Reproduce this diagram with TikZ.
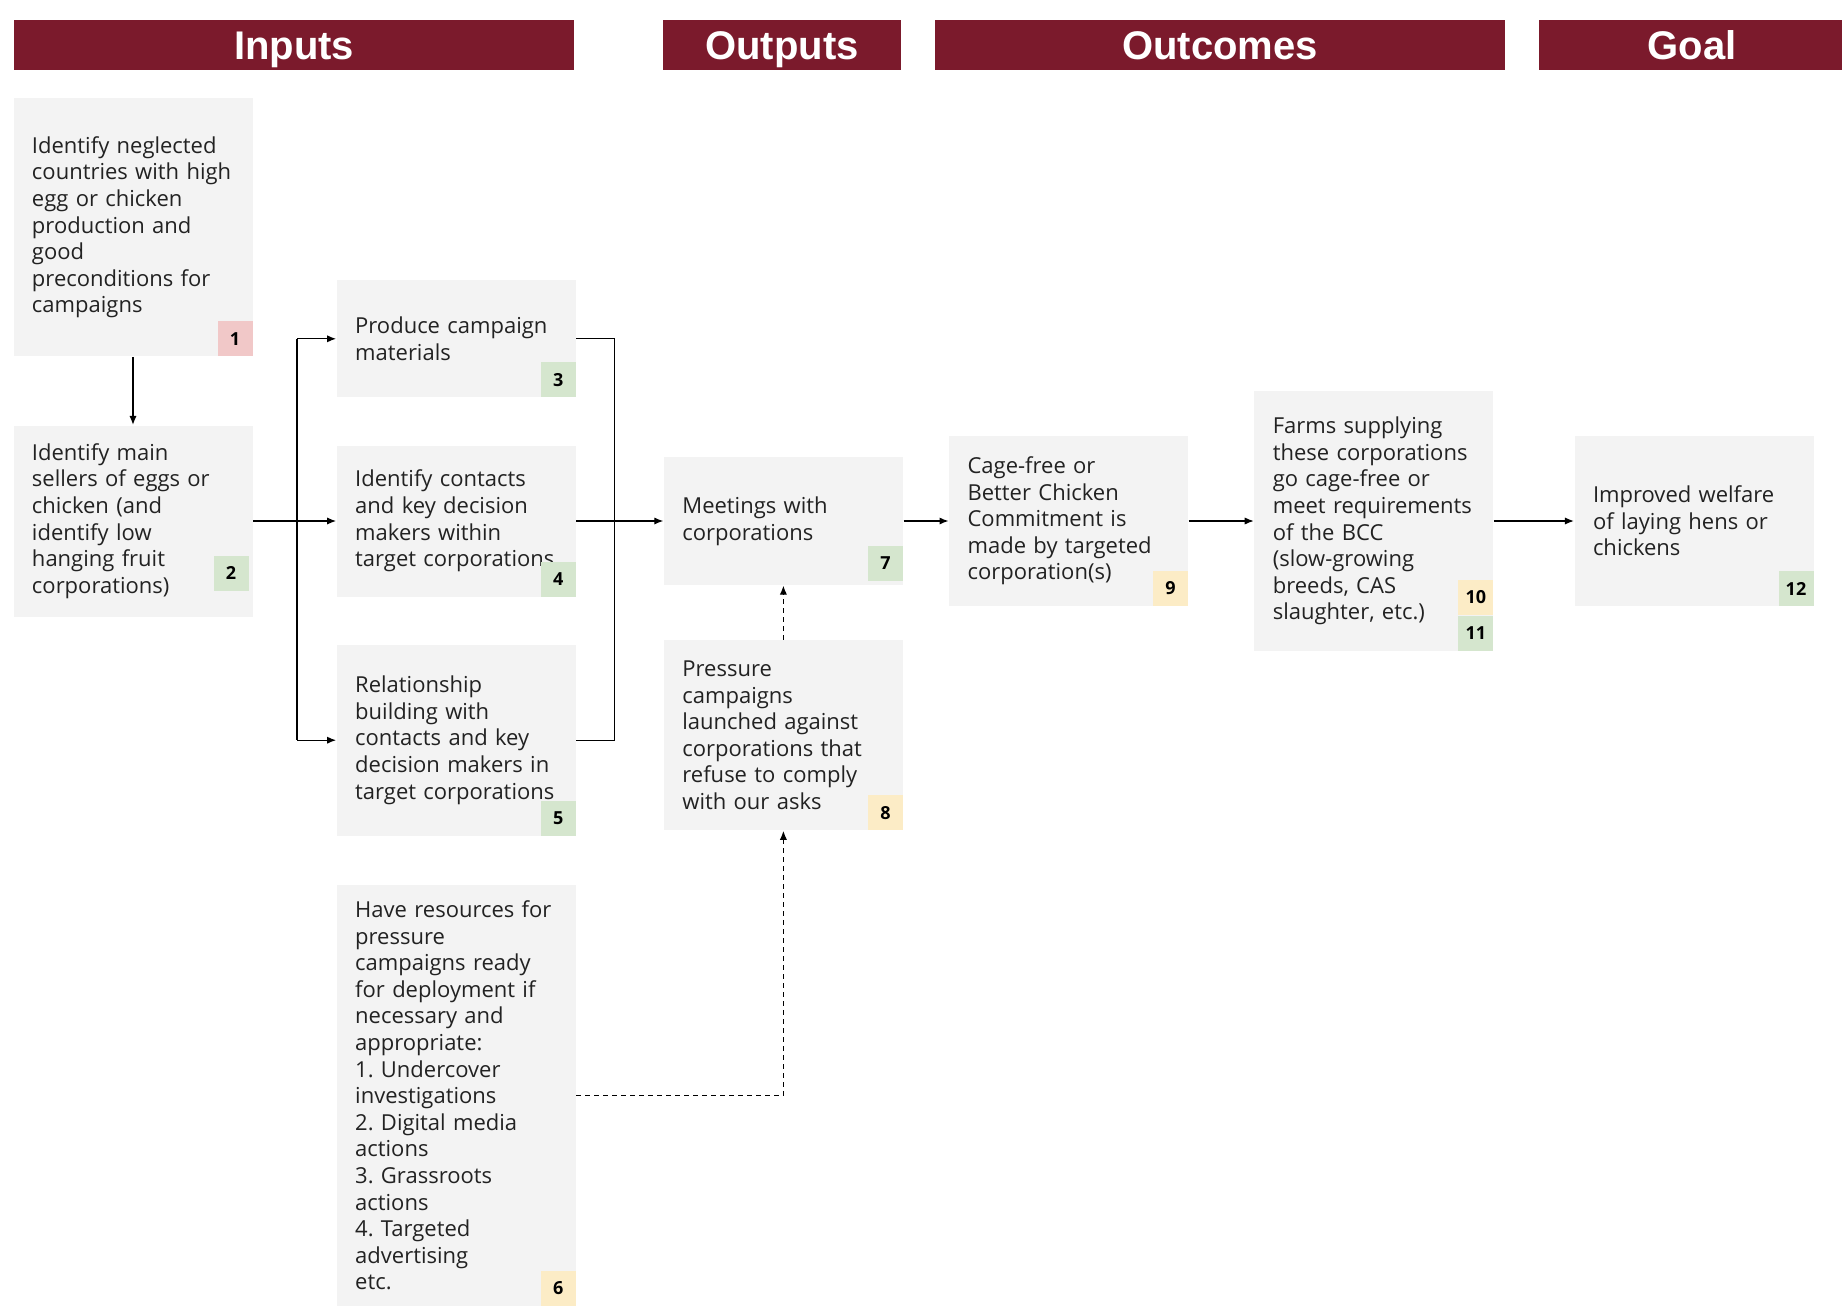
\documentclass[tikz,border=0pt]{standalone}
\usepackage{fontspec}
\setmainfont{Open Sans}
\newfontfamily\barfont{Liberation Sans}
\usetikzlibrary{arrows.meta, positioning, calc}
\definecolor{barred}{RGB}{123,26,44}
\definecolor{boxgray}{RGB}{243,243,243}
\definecolor{inkgray}{RGB}{34,34,34}
\definecolor{tagred}{RGB}{241,200,200}
\definecolor{taggreen}{RGB}{213,230,206}
\definecolor{tagyellow}{RGB}{252,236,198}
\tikzstyle{logic}=[>={Latex[length=4.5pt,width=3.6pt]}, line width=0.6pt]
\tikzstyle{header}=[fill=barred, text=white, font=\barfont\bfseries\fontsize{20}{24}\selectfont, minimum height=25pt, inner sep=0pt, text height=14.3pt, text depth=0pt]
\tikzstyle{stage}=[fill=boxgray, text=inkgray, text width=101pt, inner xsep=9.25pt, inner ysep=0pt, align=left, font=\frenchspacing\fontsize{11}{13.3}\selectfont]
\tikzstyle{tag}=[font=\bfseries\fontsize{9}{10}\selectfont, minimum size=17.5pt, inner sep=0pt, anchor=south east]
\tikzstyle{feed}=[dash pattern=on 2.5pt off 2pt]

\begin{document}
\begin{tikzpicture}[logic, x=1pt, y=-1pt]
  \useasboundingbox (0,0) rectangle (921,653);
  % column headers
  \node[header, minimum width=280pt] (inputs) at (147,22.5) {Inputs};
  \node[header, minimum width=119pt] (outputs) at (391,22.5) {Outputs};
  \node[header, minimum width=285pt] (outcomes) at (610,22.5) {Outcomes};
  \node[header, minimum width=153pt] (goal) at (846,22.5) {Goal};
  % inputs
  \node[stage, minimum height=95.5pt] (s2) at (66.5,260.5) {Identify main\\sellers of eggs or\\chicken (and\\identify low\\hanging fruit\\corporations)};
  \node[stage, minimum height=129pt] (s1) [above=34pt of s2] {Identify neglected\\countries with high\\egg or chicken\\production and\\good\\preconditions for\\campaigns};
  \node[stage, minimum height=75.5pt] (s4) [right=41.5pt of s2] {Identify contacts\\and key decision\\makers within\\target corporations};
  \node[stage, minimum height=58.5pt] (s3) [above=23.5pt of s4] {Produce campaign\\materials};
  \node[stage, minimum height=95.5pt] (s5) [below=23.5pt of s4] {Relationship\\building with\\contacts and key\\decision makers in\\target corporations};
  \node[stage, minimum height=210.5pt] (s6) [below=24pt of s5] {Have resources for\\pressure\\campaigns ready\\for deployment if\\necessary and\\appropriate:\\1. Undercover\\investigations\\2. Digital media\\actions\\3. Grassroots\\actions\\4. Targeted\\advertising\\etc.};
  % outputs
  \node[stage, minimum height=64pt] (s7) [right=43.5pt of s4] {Meetings with\\corporations};
  \node[stage, minimum height=95pt] (s8) [below=27pt of s7] {Pressure\\campaigns\\launched against\\corporations that\\refuse to comply\\with our asks};
  % outcomes and goal
  \node[stage, minimum height=85pt] (s9) [right=22.5pt of s7] {Cage-free or\\Better Chicken\\Commitment is\\made by targeted\\corporation(s)};
  \node[stage, minimum height=130pt] (s10) [right=32.5pt of s9] {Farms supplying\\these corporations\\go cage-free or\\meet requirements\\of the BCC\\(slow-growing\\breeds, CAS\\slaughter, etc.)};
  \node[stage, minimum height=85pt] (s12) [right=40pt of s10] {Improved welfare\\of laying hens or\\chickens};
  % number tags
  \node[tag, fill=tagred] (t1) at (s1.south east) {1};
  \node[tag, fill=taggreen, xshift=-2pt, yshift=13pt] (t2) at (s2.south east) {2};
  \node[tag, fill=taggreen] (t3) at (s3.south east) {3};
  \node[tag, fill=taggreen] (t4) at (s4.south east) {4};
  \node[tag, fill=taggreen] (t5) at (s5.south east) {5};
  \node[tag, fill=tagyellow] (t6) at (s6.south east) {6};
  \node[tag, fill=taggreen, yshift=2pt] (t7) at (s7.south east) {7};
  \node[tag, fill=tagyellow] (t8) at (s8.south east) {8};
  \node[tag, fill=tagyellow] (t9) at (s9.south east) {9};
  \node[tag, fill=taggreen] (t11) at (s10.south east) {11};
  \node[tag, fill=tagyellow, anchor=south] (t10) at (t11.north) {10};
  \node[tag, fill=taggreen] (t12) at (s12.south east) {12};
  % connectors
  \coordinate (fork) at ($(s2.east)!0.53!(s4.west)$);
  \coordinate (join) at ($(s4.east)!0.44!(s7.west)$);
  \draw[->] (s1) -- (s2);
  \draw[->] (s2) -- (s4);
  \draw[->] (fork |- s3.west) -- (s3.west);
  \draw[->] (fork |- s5.west) -- (s5.west);
  \draw (fork |- s3.west) -- (fork |- s5.west);
  \draw (s3.east) -| (join);
  \draw (s5.east) -| (join);
  \draw[->] (s4) -- (s7);
  \draw[->] (s7) -- (s9);
  \draw[->] (s9) -- (s10);
  \draw[->] (s10) -- (s12);
  \draw[->, feed] (s8) -- (s7);
  \draw[->, feed] (s6.east) -| (s8.south);
\end{tikzpicture}
\end{document}
